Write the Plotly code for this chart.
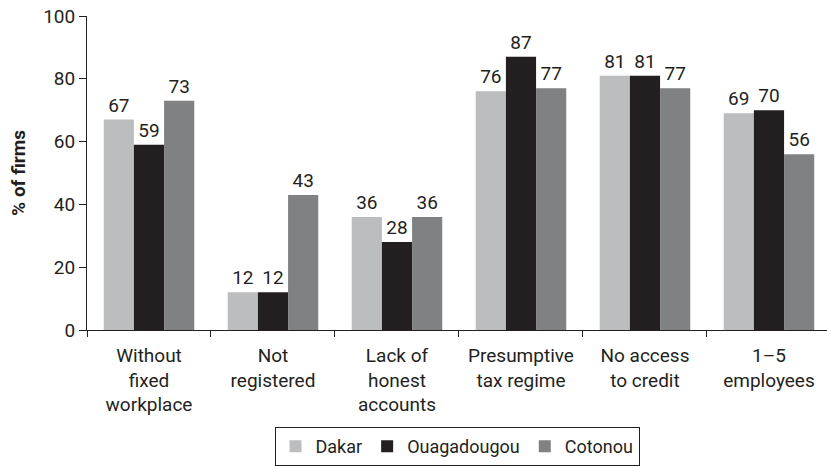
import plotly.graph_objects as go

categories = ["Without<br>fixed<br>workplace", "Not<br>registered", "Lack of<br>honest<br>accounts",
              "Presumptive<br>tax regime", "No access<br>to credit", "1–5<br>employees"]
dakar = [67, 12, 36, 76, 81, 69]
ouagadougou = [59, 12, 28, 87, 81, 70]
cotonou = [73, 43, 36, 77, 77, 56]
series_names = ["Dakar", "Ouagadougou", "Cotonou"]
colors = ["#bcbdbf", "#231f20", "#808183"]

FONT = "Roboto"
FS = 19
fig = go.Figure()
for name, vals, col in zip(series_names, [dakar, ouagadougou, cotonou], colors):
    fig.add_trace(go.Bar(
        x=categories, y=vals, name=name, marker_color=col, marker_line_width=0,
        text=[str(v) for v in vals], textposition="outside",
        textfont=dict(family=FONT, size=FS, color="#231f20"), cliponaxis=False,
    ))

fig.update_layout(
    width=827, height=466,
    margin=dict(l=87, r=0, t=16, b=130),
    paper_bgcolor="white", plot_bgcolor="white",
    barmode="group", bargap=0.27, bargroupgap=0,
    font=dict(family=FONT, size=FS, color="#231f20"),
    showlegend=True,
    legend=dict(orientation="h", x=0.5, xanchor="center", y=-0.31, yanchor="top",
                bordercolor="#231f20", borderwidth=1, font=dict(size=18, color="#231f20"),
                itemsizing="constant", traceorder="normal", tracegroupgap=0),
)
fig.update_xaxes(
    range=[-0.5, 5.468], showline=True, linecolor="#231f20", linewidth=1,
    ticks="outside", tickson="boundaries", ticklen=6, tickcolor="#231f20",
    tickfont=dict(size=FS), showgrid=False, fixedrange=True, automargin=False,
    ticklabelstandoff=8,
)
fig.update_yaxes(
    range=[0, 100], dtick=20, showline=True, linecolor="#231f20", linewidth=1,
    ticks="outside", ticklen=7, tickcolor="#231f20", showgrid=False, zeroline=False,
    tickfont=dict(size=FS), automargin=False, fixedrange=True,
    title=dict(text="<b>% of firms</b>", font=dict(size=FS), standoff=12),
)
fig.write_html("out.html", config={"displayModeBar": False},
               post_script="document.body.style.margin='0';document.body.style.overflow='hidden';")
